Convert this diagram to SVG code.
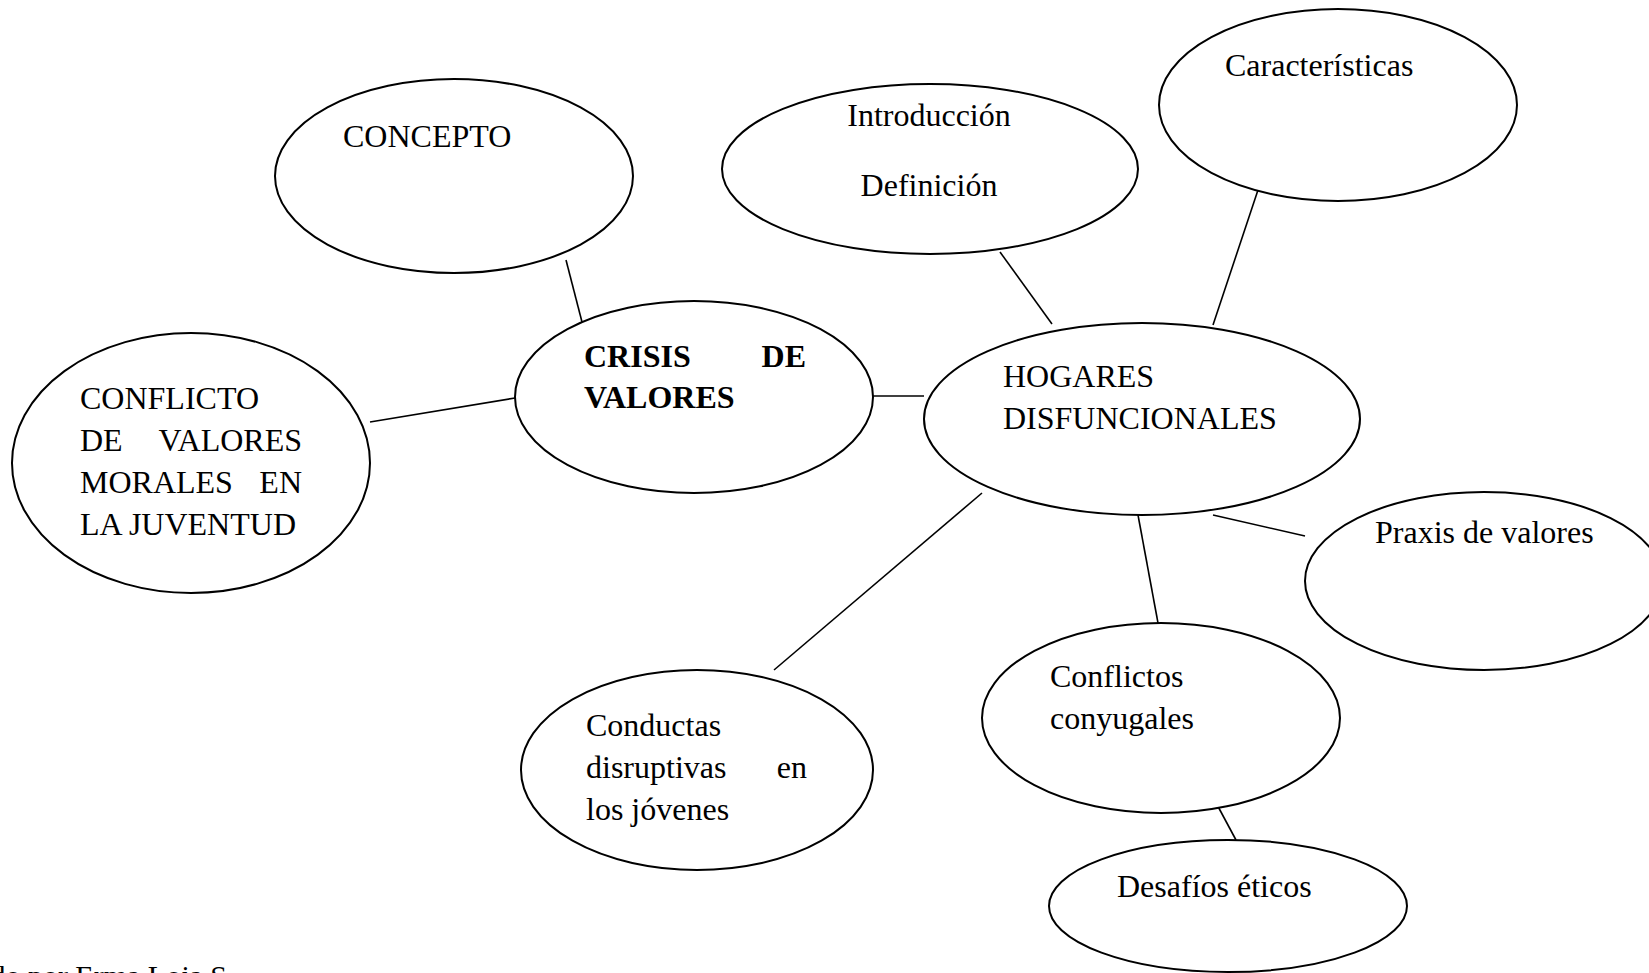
<svg xmlns="http://www.w3.org/2000/svg" width="1649" height="973" viewBox="0 0 1649 973">
<style>
.n{fill:#fff;stroke:#000;stroke-width:2}
.c line{stroke:#000;stroke-width:1.6}
text{font-family:"Liberation Serif","Times New Roman",serif;font-size:32px;fill:#000}
.b{font-weight:bold}
.s{font-size:30px}
</style>
<rect width="1649" height="973" fill="#fff"/>
<g id="connectors" class="c">
<line x1="566" y1="260" x2="582" y2="322"/>
<line x1="370" y1="422" x2="515" y2="398"/>
<line x1="873" y1="396" x2="924" y2="396"/>
<line x1="1000" y1="252" x2="1052" y2="324"/>
<line x1="1259" y1="187" x2="1213" y2="325"/>
<line x1="982" y1="493" x2="774" y2="670"/>
<line x1="1138" y1="515" x2="1158" y2="623"/>
<line x1="1213" y1="515" x2="1305" y2="536"/>
<line x1="1214" y1="799" x2="1236" y2="840"/>
</g>
<g id="concepto"><ellipse class="n" cx="454" cy="176" rx="179" ry="97"/><text x="343" y="147">CONCEPTO</text></g>
<g id="conflicto"><ellipse class="n" cx="191" cy="463" rx="179" ry="130"/>
<text x="80" y="409">CONFLICTO</text>
<text x="80" y="451">DE</text><text x="302" y="451" text-anchor="end">VALORES</text>
<text x="80" y="493">MORALES</text><text x="302" y="493" text-anchor="end">EN</text>
<text x="80" y="535">LA JUVENTUD</text></g>
<g id="crisis"><ellipse class="n" cx="694" cy="397" rx="179" ry="96"/>
<text class="b" x="584" y="367">CRISIS</text><text class="b" x="806" y="367" text-anchor="end">DE</text>
<text class="b" x="584" y="408">VALORES</text></g>
<g id="introduccion"><ellipse class="n" cx="930" cy="169" rx="208" ry="85"/>
<text x="929" y="126" text-anchor="middle">Introducción</text>
<text x="929" y="196" text-anchor="middle">Definición</text></g>
<g id="caracteristicas"><ellipse class="n" cx="1338" cy="105" rx="179" ry="96"/>
<text x="1225" y="76">Características</text></g>
<g id="hogares"><ellipse class="n" cx="1142" cy="419" rx="218" ry="96"/>
<text x="1003" y="387">HOGARES</text><text x="1003" y="429">DISFUNCIONALES</text></g>
<g id="praxis"><ellipse class="n" cx="1484" cy="581" rx="179" ry="89"/>
<text x="1375" y="543">Praxis de valores</text></g>
<g id="conflictos"><ellipse class="n" cx="1161" cy="718" rx="179" ry="95"/>
<text x="1050" y="687">Conflictos</text><text x="1050" y="729">conyugales</text></g>
<g id="conductas"><ellipse class="n" cx="697" cy="770" rx="176" ry="100"/>
<text x="586" y="736">Conductas</text>
<text x="586" y="778">disruptivas</text><text x="807" y="778" text-anchor="end">en</text>
<text x="586" y="820">los jóvenes</text></g>
<g id="desafios"><ellipse class="n" cx="1228" cy="906" rx="179" ry="66"/>
<text x="1117" y="897">Desafíos éticos</text></g>
<text class="s" x="227" y="986" text-anchor="end">Elaborado por Erma Loja S</text>
</svg>
